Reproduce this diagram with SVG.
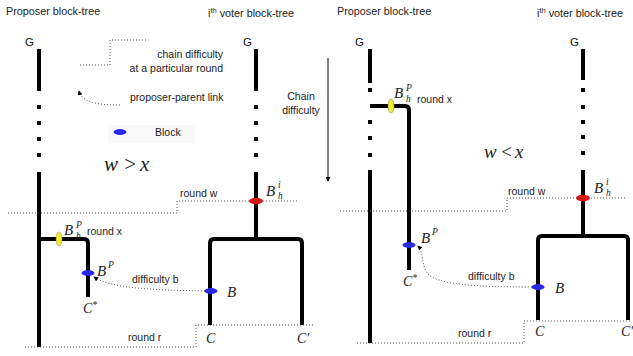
<svg xmlns="http://www.w3.org/2000/svg" width="633" height="356" viewBox="0 0 633 356">
<defs>
<style>
.t{font-family:"Liberation Sans",Arial,sans-serif;font-size:10.5px;fill:#222}
.h{font-family:"Liberation Sans",Arial,sans-serif;font-size:10.8px;fill:#222}
.g{font-family:"Liberation Sans",Arial,sans-serif;font-size:11.5px;fill:#111}
.m{font-family:"Liberation Serif","Times New Roman",serif;font-style:italic;font-size:15px;fill:#222}
.c{font-family:"Liberation Serif","Times New Roman",serif;font-style:italic;font-size:14px;fill:#222}
.s{font-size:9.5px}
.w{font-family:"Liberation Serif","Times New Roman",serif;font-style:italic;fill:#222}
.thick{fill:none;stroke:#000;stroke-width:4}
.dot{fill:none;stroke:#555;stroke-width:1;stroke-dasharray:1 2}
.blue{fill:#2828e6}
.red{fill:#e01010}
.yel{fill:#f2f020;stroke:#888;stroke-width:0.6}
</style>
<marker id="ah" viewBox="0 0 6 6" refX="5" refY="3" markerWidth="5" markerHeight="5" orient="auto" markerUnits="userSpaceOnUse">
<path d="M0,0 L6,3 L0,6 z" fill="#000"/>
</marker>
</defs>
<rect width="633" height="356" fill="#fff"/>

<!-- Titles -->
<g id="titles">
<text class="h" x="6" y="15">Proposer block-tree</text>
<text class="h" x="208" y="17">i<tspan font-size="7.5" dy="-4">th</tspan><tspan dy="4"> voter block-tree</tspan></text>
<text class="h" x="337" y="15">Proposer block-tree</text>
<text class="h" x="537" y="17">i<tspan font-size="7.5" dy="-4">th</tspan><tspan dy="4"> voter block-tree</tspan></text>
</g>

<!-- Legend -->
<g id="legend">
<text class="t" x="223" y="58" text-anchor="end">chain difficulty</text>
<text class="t" x="223" y="72" text-anchor="end">at a particular round</text>
<text class="t" x="130" y="101">proposer-parent link</text>
<rect x="108" y="125" width="87" height="18" fill="#f9f9f9"/>
<ellipse class="blue" cx="120" cy="132" rx="6.5" ry="3"/>
<text class="t" x="155" y="136">Block</text>
<text class="t" x="301" y="100" text-anchor="middle">Chain</text>
<text class="t" x="301" y="114" text-anchor="middle">difficulty</text>
<text class="w" font-size="21" x="104" y="171">w<tspan x="123">&gt;</tspan><tspan x="140">x</tspan></text>
<text class="w" font-size="19" x="484" y="158">w<tspan x="500">&lt;</tspan><tspan x="515">x</tspan></text>
</g>

<!-- Left panel: proposer tree -->
<g id="left-proposer">
<text class="g" x="25" y="46">G</text>
<path class="thick" d="M39,49 V91 M39,105 V109 M39,121 V125 M39,137 V141 M39,153 V157 M39,172 V347"/>
<path class="thick" d="M39,239 H84 Q88,239 88,243 V297"/>
<ellipse class="yel" cx="59" cy="239" rx="3" ry="7"/>
<ellipse class="blue" cx="88" cy="273" rx="6.5" ry="3"/>
<text class="m" x="64" y="235">B<tspan class="s" x="76" y="228">P</tspan><tspan class="s" x="76" y="239">h</tspan></text>
<text class="t" x="87" y="235">round x</text>
<text class="m" x="97" y="276">B<tspan class="s" x="108" y="268">P</tspan></text>
<text class="c" x="83" y="313">C<tspan class="s" dy="-5">*</tspan></text>
</g>

<!-- Left panel: voter tree -->
<g id="left-voter">
<text class="g" x="243" y="46">G</text>
<path class="thick" d="M256,49 V91 M256,105 V109 M256,121 V125 M256,137 V141 M256,153 V157 M256,172 V239"/>
<path class="thick" d="M210,325 V243 Q210,239 214,239 H298 Q302,239 302,243 V325"/>
<ellipse class="red" cx="256" cy="201" rx="7" ry="3.2"/>
<ellipse class="blue" cx="211" cy="291" rx="6.5" ry="3"/>
<text class="m" x="266" y="196">B<tspan class="s" x="278" y="188">i</tspan><tspan class="s" x="278" y="199">h</tspan></text>
<text class="m" x="227" y="297">B</text>
<text class="c" x="206" y="343">C</text>
<text class="c" x="297" y="343">C′</text>
</g>

<!-- Right panel: proposer tree -->
<g id="right-proposer">
<text class="g" x="355" y="46">G</text>
<path class="thick" d="M370,49 V83 M370,88 V92 M370,120 V124 M370,136 V140 M370,153 V157 M370,170 V343"/>
<path class="thick" d="M370,106 H405 Q409,106 409,110 V270"/>
<ellipse class="yel" cx="391" cy="106" rx="3" ry="7"/>
<ellipse class="blue" cx="409" cy="245" rx="6.5" ry="3"/>
<text class="m" x="394" y="98">B<tspan class="s" x="406" y="91">P</tspan><tspan class="s" x="406" y="102">h</tspan></text>
<text class="t" x="417" y="103">round x</text>
<text class="m" x="421" y="243">B<tspan class="s" x="432" y="235">P</tspan></text>
<text class="c" x="403" y="286">C<tspan class="s" dy="-5">*</tspan></text>
</g>

<!-- Right panel: voter tree -->
<g id="right-voter">
<text class="g" x="570" y="46">G</text>
<path class="thick" d="M583,49 V80 M583,88 V92 M583,105 V109 M583,120 V124 M583,135 V139 M583,151 V155 M583,170 V236"/>
<path class="thick" d="M538,320 V240 Q538,236 542,236 H624 Q628,236 628,240 V320"/>
<ellipse class="red" cx="583" cy="198" rx="7" ry="3.2"/>
<ellipse class="blue" cx="538" cy="287" rx="6.5" ry="3"/>
<text class="m" x="594" y="193">B<tspan class="s" x="606" y="185">i</tspan><tspan class="s" x="606" y="196">h</tspan></text>
<text class="m" x="555" y="293">B</text>
<text class="c" x="535" y="336">C</text>
<text class="c" x="621" y="336">C′</text>
</g>

<!-- Round labels -->
<g id="round-labels">
<text class="t" x="180" y="197">round w</text>
<text class="t" x="128" y="341">round r</text>
<text class="t" x="508" y="195">round w</text>
<text class="t" x="458" y="337">round r</text>
<text class="t" x="132" y="283">difficulty b</text>
<text class="t" x="468" y="280">difficulty b</text>
</g>

<!-- Connectors -->
<g id="connectors">
<path class="dot" d="M80,65 H110 V40 H148"/>
<path class="dot" d="M120,105 C96,105 82,102 79,91" marker-end="url(#ah)"/>
<path class="dot" d="M8,213 H177 V201 H297"/>
<path class="dot" d="M25,347 H196 V325 H315"/>
<path class="dot" d="M205,291 C150,290 110,288 94,277" marker-end="url(#ah)"/>
<path class="dot" d="M340,211 H507 V198 H625"/>
<path class="dot" d="M357,343 H524 V321 H632"/>
<path class="dot" d="M532,287 C470,287 438,284 428,274 C421,266 424,252 418,246" marker-end="url(#ah)"/>
<path d="M328,58 V181" stroke="#000" stroke-width="1" fill="none" marker-end="url(#ah)"/>
</g>
</svg>
